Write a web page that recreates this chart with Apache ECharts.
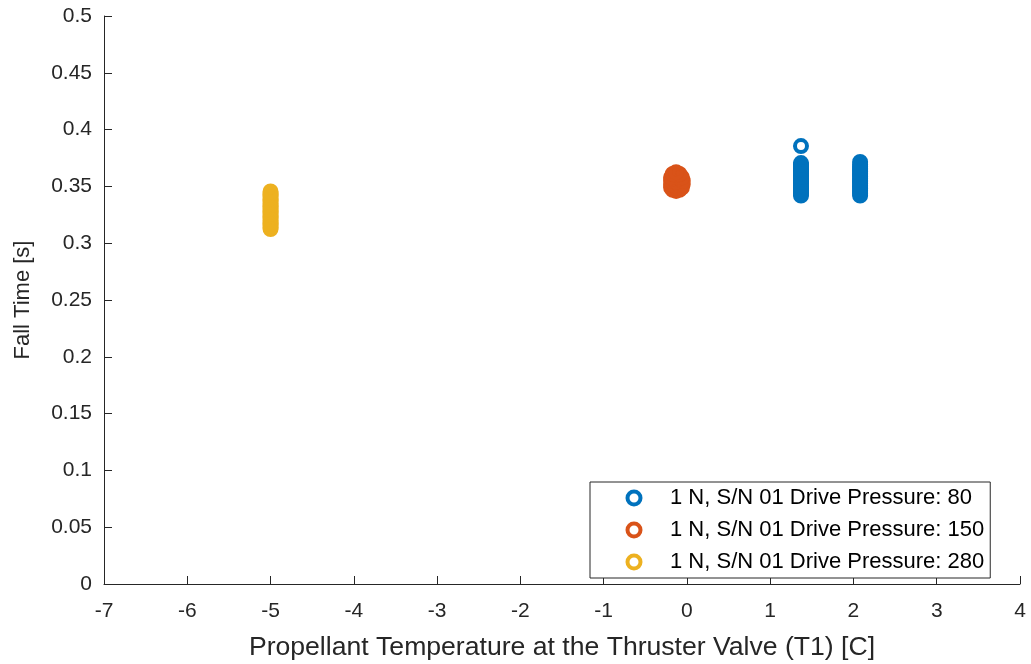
<!DOCTYPE html>
<html>
<head>
<meta charset="utf-8">
<script src="https://cdn.jsdelivr.net/npm/echarts@6/dist/echarts.min.js"></script>
<style>html,body{margin:0;padding:0;background:#fff;}#c{width:1031px;height:664px;}</style>
</head>
<body>
<div id="c"></div>
<script>
const seriesNames = ['1 N, S/N 01 Drive Pressure: 80', '1 N, S/N 01 Drive Pressure: 150', '1 N, S/N 01 Drive Pressure: 280'];
const colors = ['#0072BD', '#D95319', '#EDB120'];
const xTicks = [-7, -6, -5, -4, -3, -2, -1, 0, 1, 2, 3, 4];
const yTicks = [0, 0.05, 0.1, 0.15, 0.2, 0.25, 0.3, 0.35, 0.4, 0.45, 0.5];

// Drive pressure 80: two temperature groups plus one outlier
const p80 = [
  [1.37, 0.342], [1.37, 0.3435], [1.37, 0.345], [1.37, 0.3465], [1.37, 0.348],
  [1.37, 0.3495], [1.37, 0.351], [1.37, 0.3525], [1.37, 0.354], [1.37, 0.3555],
  [1.37, 0.357], [1.37, 0.3585], [1.37, 0.36], [1.37, 0.3615], [1.37, 0.363],
  [1.37, 0.3645], [1.37, 0.366], [1.37, 0.3675], [1.37, 0.369], [1.37, 0.3705],
  [1.37, 0.3855],
  [2.08, 0.342], [2.08, 0.3435], [2.08, 0.345], [2.08, 0.3465], [2.08, 0.348],
  [2.08, 0.3495], [2.08, 0.351], [2.08, 0.3525], [2.08, 0.354], [2.08, 0.3555],
  [2.08, 0.357], [2.08, 0.3585], [2.08, 0.36], [2.08, 0.3615], [2.08, 0.363],
  [2.08, 0.3645], [2.08, 0.366], [2.08, 0.3675], [2.08, 0.369], [2.08, 0.3715]
];
// Drive pressure 150
const p150 = [
  [-0.13, 0.346], [-0.17, 0.347], [-0.09, 0.347], [-0.19, 0.349], [-0.13, 0.349],
  [-0.06, 0.349], [-0.19, 0.352], [-0.15, 0.351], [-0.1, 0.352], [-0.05, 0.352],
  [-0.19, 0.355], [-0.13, 0.354], [-0.05, 0.355], [-0.17, 0.357], [-0.09, 0.357],
  [-0.19, 0.358], [-0.06, 0.358], [-0.13, 0.36], [-0.17, 0.361], [-0.09, 0.361],
  [-0.13, 0.3625]
];
// Drive pressure 280
const p280 = [
  [-5.0, 0.3125], [-5.0, 0.314], [-5.0, 0.3155], [-5.0, 0.317], [-5.0, 0.3185],
  [-5.0, 0.32], [-5.0, 0.3215], [-5.0, 0.323], [-5.0, 0.3245], [-5.0, 0.326],
  [-5.0, 0.3275], [-5.0, 0.329], [-5.0, 0.3305], [-5.0, 0.332], [-5.0, 0.3335],
  [-5.0, 0.335], [-5.0, 0.3365], [-5.0, 0.338], [-5.0, 0.3395], [-5.0, 0.341],
  [-5.0, 0.3425], [-5.0, 0.344], [-5.0, 0.3455]
];
const allData = [p80, p150, p280];

const chart = echarts.init(document.getElementById('c'), null, {renderer: 'canvas'});
const font = 'Liberation Sans, Arial, Helvetica, sans-serif';
const axisColor = '#262626';

chart.setOption({
  animation: false,
  backgroundColor: '#fff',
  grid: {left: 104, right: 11, top: 16, bottom: 80, containLabel: false, outerBoundsMode: 'none'},
  xAxis: {
    type: 'value', min: xTicks[0], max: xTicks[xTicks.length - 1], interval: 1,
    name: 'Propellant Temperature at the Thruster Valve (T1) [C]',
    nameLocation: 'middle', nameGap: 50,
    nameTextStyle: {fontFamily: font, fontSize: 26.6, color: axisColor},
    axisLine: {onZero: false, lineStyle: {color: axisColor, width: 1}},
    axisTick: {inside: true, length: 8, lineStyle: {color: axisColor}},
    axisLabel: {fontFamily: font, fontSize: 21, color: axisColor, margin: 17},
    splitLine: {show: false}
  },
  yAxis: {
    type: 'value', min: yTicks[0], max: yTicks[yTicks.length - 1], interval: 0.05,
    name: 'Fall Time [s]',
    nameLocation: 'middle', nameGap: 70,
    nameTextStyle: {fontFamily: font, fontSize: 22, color: axisColor},
    axisLine: {show: true, onZero: false, lineStyle: {color: axisColor, width: 1}},
    axisTick: {show: true, inside: true, length: 8, lineStyle: {color: axisColor}},
    axisLabel: {fontFamily: font, fontSize: 21, color: axisColor, margin: 12,
      formatter: v => String(Math.round(v * 100) / 100)},
    splitLine: {show: false}
  },
  legend: {
    orient: 'vertical', left: 590, top: 482,
    backgroundColor: '#fff', borderColor: axisColor, borderWidth: 1,
    padding: [5, 6, 5, 35.5], itemGap: 10, itemWidth: 13, itemHeight: 13,
    icon: 'circle',
    itemStyle: {borderWidth: 4},
    textStyle: {fontFamily: font, fontSize: 22, color: '#000', padding: [0, 0, 0, 24.5]},
    data: seriesNames
  },
  series: allData.map((d, i) => ({
    name: seriesNames[i], type: 'scatter', data: d,
    symbol: 'circle', symbolSize: 12,
    itemStyle: {color: 'rgba(255,255,255,0)', borderColor: colors[i], borderWidth: 4, opacity: 1},
    emphasis: {disabled: true}
  }))
});
</script>
</body>
</html>
